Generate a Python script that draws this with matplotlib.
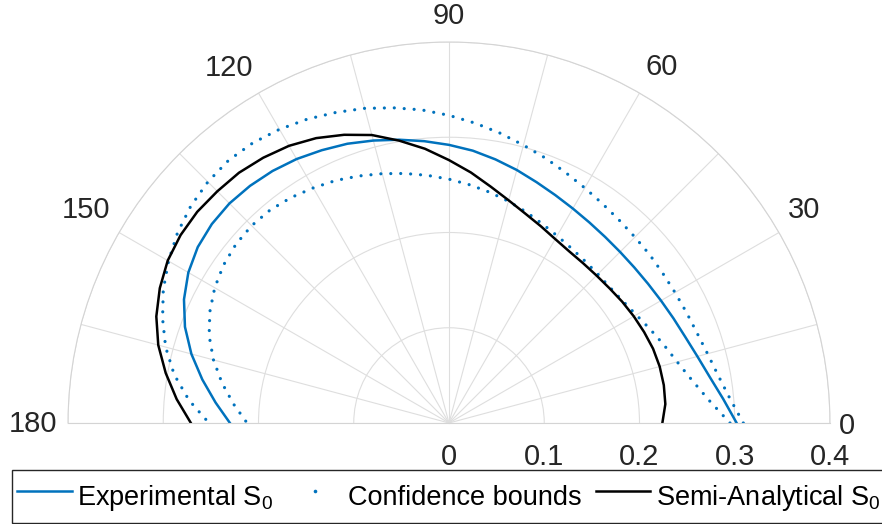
import numpy as np
import matplotlib
matplotlib.use('Agg')
from matplotlib import pyplot as plt
from matplotlib.lines import Line2D

plt.rcParams['font.family'] = ['Liberation Sans', 'DejaVu Sans']
plt.rcParams['mathtext.fontset'] = 'custom'
plt.rcParams['mathtext.rm'] = 'Liberation Sans'
plt.rcParams['mathtext.it'] = 'Liberation Sans:italic'

# Angles (deg) and radial values of the S0 curves, every 5 deg
theta_deg = list(range(0, 181, 5))
experimental = [0.302, 0.289, 0.278, 0.270, 0.264, 0.260, 0.257, 0.255, 0.254, 0.254,
                0.255, 0.257, 0.260, 0.264, 0.269, 0.275, 0.281, 0.287, 0.292, 0.297,
                0.302, 0.307, 0.312, 0.316, 0.320, 0.323, 0.325, 0.326, 0.325, 0.322,
                0.316, 0.307, 0.295, 0.280, 0.263, 0.246, 0.230]
upper_bound = [0.309, 0.296, 0.287, 0.281, 0.277, 0.275, 0.274, 0.274, 0.275, 0.276,
               0.278, 0.281, 0.285, 0.290, 0.296, 0.302, 0.309, 0.316, 0.323, 0.330,
               0.336, 0.342, 0.347, 0.352, 0.356, 0.359, 0.360, 0.358, 0.354, 0.348,
               0.340, 0.331, 0.320, 0.308, 0.293, 0.274, 0.252]
lower_bound = [0.295, 0.274, 0.259, 0.248, 0.240, 0.233, 0.227, 0.223, 0.221, 0.221,
               0.222, 0.224, 0.227, 0.231, 0.236, 0.241, 0.246, 0.251, 0.256, 0.261,
               0.266, 0.271, 0.276, 0.281, 0.285, 0.289, 0.292, 0.293, 0.292, 0.289,
               0.284, 0.277, 0.268, 0.256, 0.242, 0.227, 0.212]
semi_analytical = [0.224, 0.228, 0.229, 0.229, 0.228, 0.226, 0.224, 0.222, 0.220, 0.219,
                   0.219, 0.220, 0.223, 0.228, 0.234, 0.242, 0.252, 0.264, 0.276, 0.289,
                   0.301, 0.313, 0.322, 0.330, 0.336, 0.340, 0.343, 0.344, 0.345, 0.344,
                   0.341, 0.335, 0.327, 0.316, 0.302, 0.287, 0.271]

r_ticks = [0, 0.1, 0.2, 0.3, 0.4]
theta_ticks = [0, 30, 60, 90, 120, 150, 180]
# where each angle label is centred, just outside the outer circle
label_theta = [-0.4, 31.0, 59.1, 90.0, 121.8, 149.6, 180.2]
label_r = [0.418, 0.435, 0.435, 0.427, 0.439, 0.442, 0.437]

BLUE = '#0072BD'
GRID = '#dedede'


def main():
    fig = plt.figure(figsize=(8.82, 5.24), dpi=100)
    # the half disc sits in the middle of a square box: 762 px wide,
    # outer circle radius 381 px, centre at (449, 423) px from top-left
    W, H = 882, 524
    side = 762
    box_top = 423 - 381 / 2 - side / 2
    ax = fig.add_axes([68 / W, (H - box_top - side) / H, side / W, side / H],
                      projection='polar')
    ax.set_thetamin(0)
    ax.set_thetamax(180)
    ax.set_rlim(0, 0.4)

    th = np.deg2rad(theta_deg)
    ax.plot(th, experimental, color=BLUE, lw=1.8)
    dots = dict(color=BLUE, lw=2.3, linestyle=(0, (0.01, 3.1)), dash_capstyle='round')
    ax.plot(th, upper_bound, **dots)
    ax.plot(th, lower_bound, **dots)
    ax.plot(th, semi_analytical, color='black', lw=1.8)

    # grid every 15 deg and every 0.1
    ax.set_thetagrids(np.arange(0, 181, 15), labels=[''] * 13)
    ax.set_rgrids([0.1, 0.2, 0.3, 0.4], labels=[''] * 4)
    ax.grid(color=GRID, lw=0.8)
    ax.tick_params(length=0)
    for sp in ax.spines.values():
        sp.set_color('#d4d4d4')
        sp.set_linewidth(0.8)

    for a, ta, rr in zip(theta_ticks, label_theta, label_r):
        ax.text(np.deg2rad(ta), rr, str(a), ha='center', va='center',
                fontsize=21, color='#262626', clip_on=False)
    for v in r_ticks:
        ax.annotate(f'{v:g}', xy=(0, v), xytext=(0, -34), textcoords='offset pixels',
                    ha='center', va='center', fontsize=21, color='#262626',
                    annotation_clip=False)

    handles = [Line2D([], [], color=BLUE, lw=1.8),
               Line2D([], [], color=BLUE, ls='none', marker='o', markersize=2.6,
                      markeredgewidth=0),
               Line2D([], [], color='black', lw=1.8)]
    labels = ['Experimental S$_0$', 'Confidence bounds', 'Semi-Analytical S$_0$']
    leg = fig.legend(handles, labels, ncol=3, loc='lower left',
                     bbox_to_anchor=(12 / W, 1 / H), borderaxespad=0,
                     fancybox=False, framealpha=1, edgecolor='#262626',
                     handlelength=2.0, handleheight=2.0, handletextpad=0.2,
                     columnspacing=0.55, borderpad=0.2, fontsize=19.5)
    leg.get_frame().set_linewidth(1.0)

    fig.savefig('out.png', dpi=100)


if __name__ == "__main__":
    main()
